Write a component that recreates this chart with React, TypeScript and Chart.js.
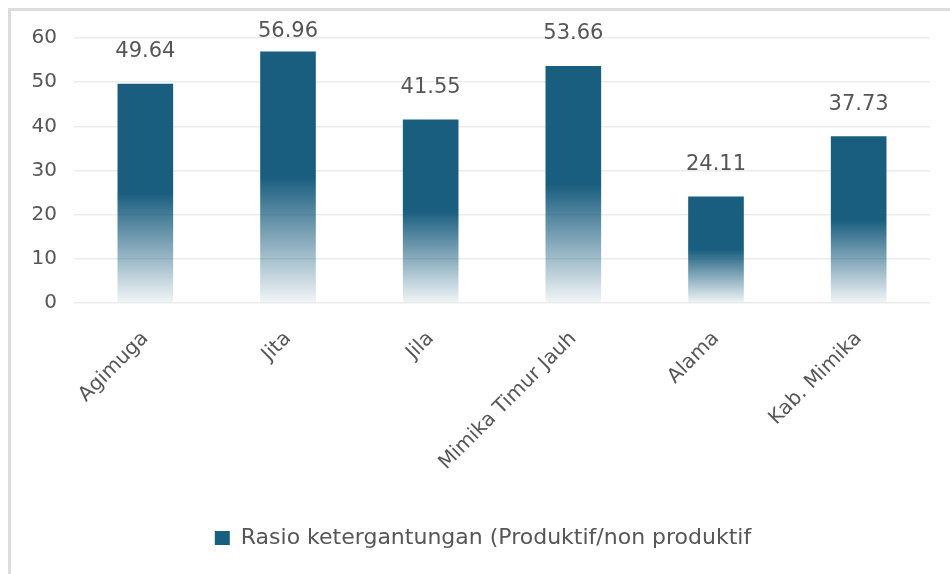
import React, { useEffect, useRef } from "react";
import { Chart, registerables } from "chart.js";

Chart.register(...registerables);

const categories = ["Agimuga", "Jita", "Jila", "Mimika Timur Jauh", "Alama", "Kab. Mimika"];
const values = [49.64, 56.96, 41.55, 53.66, 24.11, 37.73];
const seriesName = "Rasio ketergantungan (Produktif/non produktif";
const yMax = 60;
const yStep = 10;

const BAR = "rgb(26,94,127)";
const TEXT = "#565656";
const FONT = "'DejaVu Sans', sans-serif";

const labelPlugin = {
  id: "barLabels",
  afterDatasetsDraw(chart: any) {
    const ctx = chart.ctx;
    const meta = chart.getDatasetMeta(0);
    ctx.save();
    ctx.font = `21px ${FONT}`;
    ctx.fillStyle = TEXT;
    ctx.textAlign = "center";
    ctx.textBaseline = "middle";
    meta.data.forEach((bar: any, i: number) => {
      const y = Math.max(bar.y - 32, 32);
      ctx.fillText(values[i].toFixed(2), bar.x, y);
    });
    ctx.restore();
  },
};

const legendShift = {
  id: "legendShift",
  afterLayout(chart: any) {
    if (chart.legend) {
      chart.legend.left += 18;
      chart.legend.right += 18;
    }
  },
};

export default function App() {
  const ref = useRef<HTMLCanvasElement>(null);
  useEffect(() => {
    if (!ref.current) return;
    const chart = new Chart(ref.current, {
      type: "bar",
      data: {
        labels: categories,
        datasets: [
          {
            label: seriesName,
            data: values,
            barPercentage: 0.78,
            categoryPercentage: 0.5,
            backgroundColor: (c: any) => {
              const ch = c.chart;
              if (!ch.chartArea || c.dataIndex === undefined) return BAR;
              const ys = ch.scales.y;
              const v = values[c.dataIndex];
              const top = ys.getPixelForValue(v);
              const bottom = ys.getPixelForValue(0);
              const g = ch.ctx.createLinearGradient(0, top, 0, bottom);
              g.addColorStop(0, "rgba(26,94,127,1)");
              g.addColorStop(0.5, "rgba(26,94,127,1)");
              g.addColorStop(1, "rgba(26,94,127,0.06)");
              return g;
            },
            borderWidth: 0,
          },
        ],
      },
      options: {
        responsive: true,
        maintainAspectRatio: false,
        animation: false,
        layout: { padding: { left: 0, right: 20, top: 38, bottom: 15 } },
        plugins: {
          legend: {
            position: "bottom",
            labels: {
              color: TEXT,
              font: { family: FONT, size: 22 },
              boxWidth: 15,
              boxHeight: 14,
              padding: 10,
              generateLabels: () => [
                {
                  text: seriesName,
                  fillStyle: BAR,
                  strokeStyle: BAR,
                  lineWidth: 0,
                  hidden: false,
                  datasetIndex: 0,
                  fontColor: TEXT,
                },
              ],
            },
          },
          tooltip: { enabled: false },
        },
        scales: {
          x: {
            grid: { display: false, drawTicks: false },
            border: { display: false },
            afterFit: (scale: any) => {
              scale.height = 214;
            },
            ticks: {
              color: TEXT,
              font: { family: FONT, size: 20 },
              minRotation: 45,
              maxRotation: 45,
              padding: 24,
              autoSkip: false,
            },
          },
          y: {
            min: 0,
            max: yMax,
            afterFit: (scale: any) => {
              scale.width = 74;
            },
            grid: { color: "#ececec", lineWidth: 1.5, drawTicks: false },
            border: { display: false },
            ticks: {
              stepSize: yStep,
              color: TEXT,
              font: { family: FONT, size: 20 },
              padding: 17,
            },
          },
        },
      },
      plugins: [labelPlugin, legendShift],
    });
    return () => chart.destroy();
  }, []);

  return (
    <div style={{ position: "absolute", left: 0, top: 0, width: 950, height: 574, background: "#fff" }}>
      <canvas ref={ref} />
      <div style={{ position: "absolute", left: 8, top: 8, width: 942, height: 3, background: "#dcdcdc" }} />
      <div style={{ position: "absolute", left: 8, top: 8, width: 3, height: 566, background: "#dcdcdc" }} />
    </div>
  );
}
